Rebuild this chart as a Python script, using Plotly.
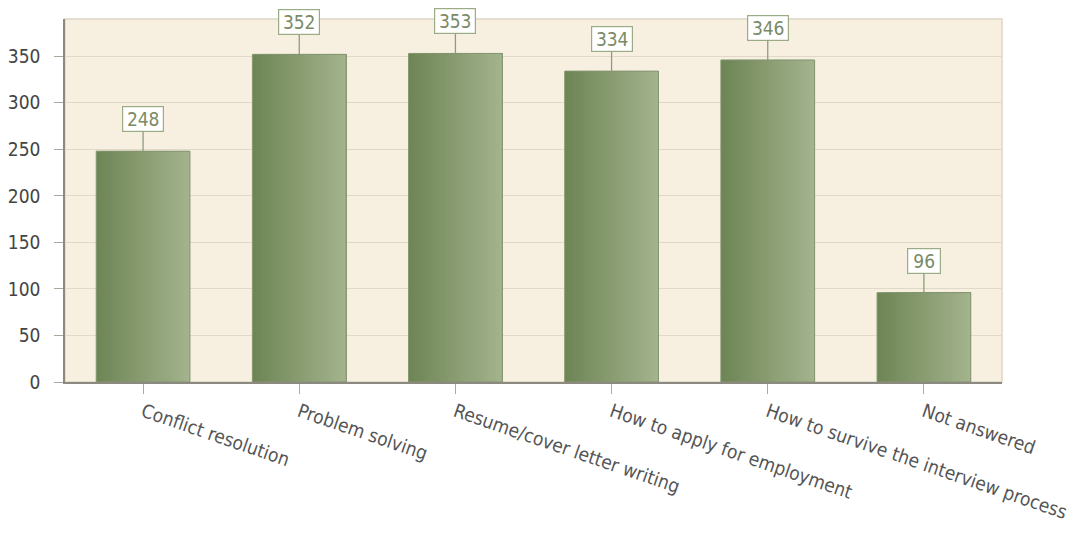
import plotly.graph_objects as go

# data
categories = [
    "Conflict resolution",
    "Problem solving",
    "Resume/cover letter writing",
    "How to apply for employment",
    "How to survive the interview process",
    "Not answered",
]
counts = [248, 352, 353, 334, 346, 96]
y_ticks = [0, 50, 100, 150, 200, 250, 300, 350]

# style
FONT = "DejaVu Sans Condensed, DejaVu Sans"
DARK = (0x6E, 0x85, 0x55)
LIGHT = (0xA3, 0xB3, 0x8D)
BAR_W = 0.6
N_SLICES = 30


def _mix(t):
    r, g, b = (round(d + (l - d) * t) for d, l in zip(DARK, LIGHT))
    return f"rgb({r},{g},{b})"


fig = go.Figure()

# horizontal gradient: each slice runs from its start to the bar's right edge
for k in range(N_SLICES):
    w = BAR_W / N_SLICES
    fig.add_trace(go.Bar(
        x=categories, y=counts,
        width=BAR_W - k * w, offset=-BAR_W / 2 + k * w,
        marker=dict(color=_mix(k / (N_SLICES - 1)), line=dict(width=0)),
        hoverinfo="skip", showlegend=False,
    ))

# outline
fig.add_trace(go.Bar(
    x=categories, y=counts,
    width=BAR_W, offset=-BAR_W / 2,
    marker=dict(color="rgba(0,0,0,0)", line=dict(width=1, color="#83956f")),
    showlegend=False,
))

for cat, v in zip(categories, counts):
    fig.add_annotation(
        x=cat, y=v, text=str(v),
        showarrow=True, arrowhead=0, arrowwidth=1.3, arrowcolor="#8e9e7a",
        ax=0, ay=-32,
        width=38 if v >= 100 else 30, height=22,
        font=dict(family=FONT, size=19, color="#7a8a66"),
        bgcolor="white", bordercolor="#9aab86", borderwidth=1.2, borderpad=1,
    )

# page body adds 8px margin, so the figure is 8px smaller and margins shifted
fig.update_layout(
    barmode="overlay",
    width=1072, height=527,
    margin=dict(l=57, r=78, t=11, b=153),
    paper_bgcolor="white",
    plot_bgcolor="#f7f0e1",
    font=dict(family=FONT, size=19, color="#444444"),
    xaxis=dict(
        tickangle=19, showgrid=False, automargin=False,
        showline=True, linecolor="#8c8a80", linewidth=1.5,
        ticks="outside", ticklen=10, tickcolor="#aaaaaa",
        tickfont=dict(size=19, color="#555555"),
    ),
    yaxis=dict(
        range=[0, 390], tickvals=y_ticks, automargin=False,
        showgrid=True, gridcolor="#e0d9c7", gridwidth=1.3,
        showline=True, linecolor="#8c8a80", linewidth=1.5,
        ticks="outside", ticklen=9, tickcolor="#aaa69c",
        ticklabelstandoff=10,
        zeroline=False,
        tickfont=dict(size=19, color="#444444"),
    ),
    shapes=[dict(
        type="rect", xref="paper", yref="paper", x0=0, x1=1, y0=0, y1=1,
        line=dict(color="#ddd6c4", width=1.5), layer="below",
    )],
)

fig.write_html("out.html")
